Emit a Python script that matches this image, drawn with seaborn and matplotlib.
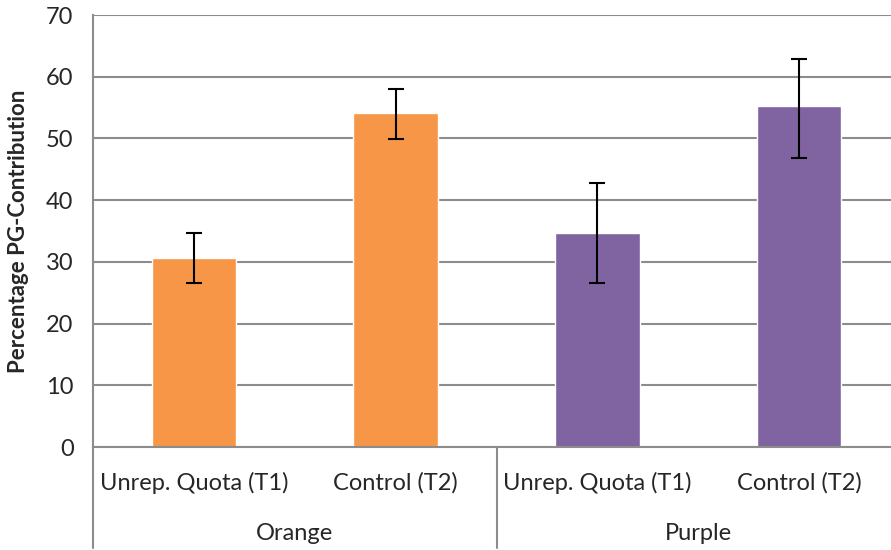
import numpy as np
import pandas as pd
import seaborn as sns
import matplotlib.pyplot as plt
from matplotlib.transforms import blended_transform_factory

groups = ["Orange", "Orange", "Purple", "Purple"]
treatments = ["Unrep. Quota (T1)", "Control (T2)", "Unrep. Quota (T1)", "Control (T2)"]
values = [30.6, 54.1, 34.7, 55.2]
err_low = [26.6, 49.9, 26.5, 46.9]
err_high = [34.6, 58.0, 42.7, 62.9]
group_names = ["Orange", "Purple"]
colors = {"Orange": "#F79646", "Purple": "#8064A2"}

sns.set_style("white")
plt.rcParams["font.family"] = ["Lato", "DejaVu Sans"]

df = pd.DataFrame({
    "group": groups,
    "treatment": treatments,
    "value": values,
    "key": [g + "|" + t for g, t in zip(groups, treatments)],
})

fig = plt.figure(figsize=(8.91, 5.5), dpi=100)
ax = fig.add_axes([93 / 891, 1 - 447 / 550, 807 / 891, 432 / 550])

sns.barplot(data=df, x="key", y="value", hue="group", palette=colors,
            dodge=False, width=0.42, legend=False, ax=ax, saturation=1)

pos = np.arange(len(values))
yerr = [np.array(values) - np.array(err_low), np.array(err_high) - np.array(values)]
ax.errorbar(pos, values, yerr=yerr, fmt="none", ecolor="black",
            elinewidth=1.5, capsize=6, capthick=1.5)

grid_c = "#8C8C8C"
ax.set_ylim(0, 70)
ax.set_xlim(-0.5, 3.5)
ax.set_yticks(range(0, 71, 10))
ax.yaxis.grid(True, color=grid_c, linewidth=1.5)
ax.set_axisbelow(True)
ax.tick_params(axis="y", labelsize=17, length=6, width=1.2, color=grid_c, pad=8)
ax.tick_params(axis="x", length=0)
ax.set_xticks(pos)
ax.set_xticklabels([])
for s in ["top", "right"]:
    ax.spines[s].set_visible(False)
for s in ["left", "bottom"]:
    ax.spines[s].set_color(grid_c)
    ax.spines[s].set_linewidth(1.5)
ax.set_xlabel("")
ax.set_ylabel("Percentage PG-Contribution", fontsize=16, fontweight="bold", labelpad=12)

trans = blended_transform_factory(ax.transData, ax.transAxes)
for p, t in zip(pos, treatments):
    ax.text(p, -36 / 432, t, transform=trans, ha="center", va="center", fontsize=17)
for i, g in enumerate(group_names):
    ax.text(2 * i + 0.5, -87 / 432, g, transform=trans, ha="center", va="center", fontsize=17)
for xv in [-0.5, 1.5]:
    ax.plot([xv, xv], [0, -101 / 432], transform=trans, color=grid_c,
            linewidth=1.5, clip_on=False)

fig.savefig("out.png", dpi=100)
